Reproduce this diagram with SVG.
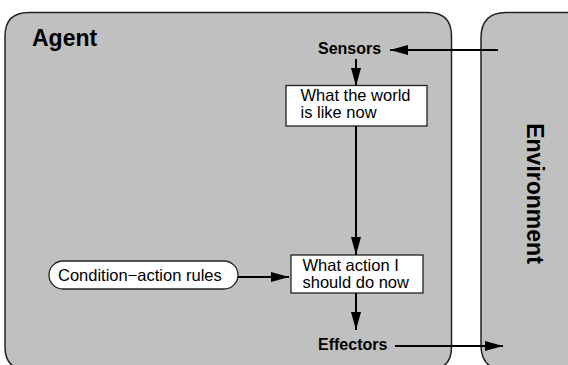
<svg xmlns="http://www.w3.org/2000/svg" width="568" height="365" viewBox="0 0 568 365">
<style>
.frame{fill:#c0c0c0;stroke:#222;stroke-width:1.5}
.box{fill:#fff;stroke:#222;stroke-width:1.3}
.t{font-family:"Liberation Sans",Arial,sans-serif;font-size:16.5px;fill:#000}
.b{font-family:"Liberation Sans",Arial,sans-serif;font-weight:bold;fill:#000}
.conn line{stroke:#000;stroke-width:2}
</style>
<defs>
<marker id="ah" viewBox="0 0 18 10" refX="18" refY="5" markerWidth="18" markerHeight="10" markerUnits="userSpaceOnUse" orient="auto">
<path d="M0,0 L18,5 L0,10 Z" fill="#000"/>
</marker>
</defs>
<rect width="568" height="365" fill="#fff"/>
<g id="agent">
<path class="frame" d="M5,36 Q5,12.5 29,12.5 L428,12.5 Q451.5,12.5 451.5,36 L451.5,347 Q451.5,370 428,370 L29,370 Q5,370 5,347 Z"/>
<text class="b" x="32" y="45.5" font-size="23">Agent</text>
</g>
<g id="environment">
<path class="frame" d="M481,38 Q481,12.5 506,12.5 L620,12.5 L620,370 L506,370 Q481,370 481,345 Z"/>
<text class="b" font-size="23" text-anchor="middle" transform="translate(527,193.5) rotate(90)">Environment</text>
</g>
<g id="sensors">
<text class="b" x="318" y="54" font-size="16">Sensors</text>
</g>
<g id="effectors">
<text class="b" x="318" y="349.5" font-size="16">Effectors</text>
</g>
<g id="world">
<rect class="box" x="286" y="85.5" width="141" height="40.5"/>
<text class="t" x="300.5" y="100.5">What the world</text>
<text class="t" x="300.5" y="117.5">is like now</text>
</g>
<g id="action">
<rect class="box" x="291" y="255" width="132" height="38"/>
<text class="t" x="302.5" y="270.5">What action I</text>
<text class="t" x="302.5" y="287.5">should do now</text>
</g>
<g id="rules">
<rect class="box" x="49" y="261" width="189" height="28" rx="14" ry="14"/>
<text class="t" x="58" y="280.5">Condition−action rules</text>
</g>
<g id="connectors" class="conn">
<line x1="498" y1="50" x2="390" y2="50" marker-end="url(#ah)"/>
<line x1="356" y1="59" x2="356" y2="86" marker-end="url(#ah)"/>
<line x1="356" y1="126" x2="356" y2="255" marker-end="url(#ah)"/>
<line x1="356" y1="293" x2="356" y2="330" marker-end="url(#ah)"/>
<line x1="238" y1="277" x2="289" y2="277" marker-end="url(#ah)"/>
<line x1="395" y1="346" x2="503" y2="346" marker-end="url(#ah)"/>
</g>
</svg>
